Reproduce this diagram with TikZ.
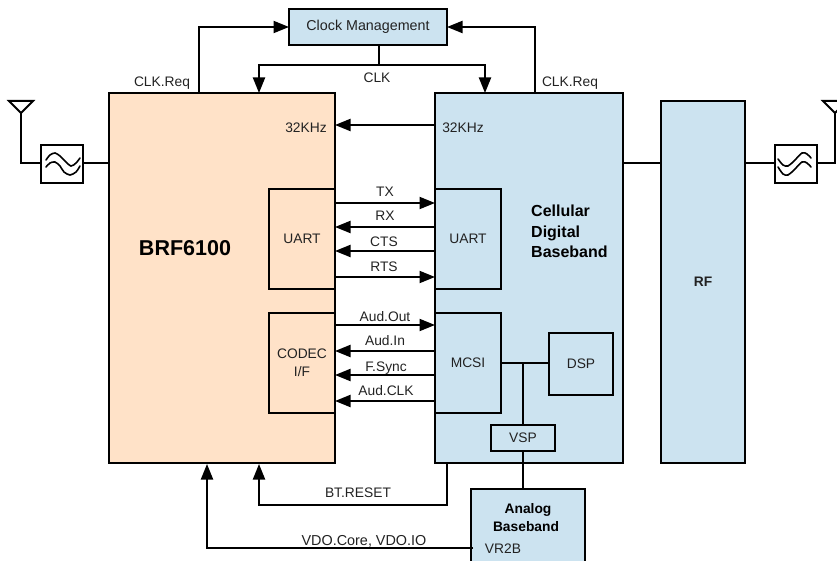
\documentclass[tikz,border=0pt]{standalone}
\usepackage{fontspec}
\setmainfont{Liberation Sans}
\usetikzlibrary{arrows.meta}
\definecolor{bluefill}{HTML}{CCE3F0}
\definecolor{peachfill}{HTML}{FFE2C8}
\definecolor{inkc}{HTML}{222222}
\tikzset{
  wire/.style={line width=2pt,draw=black,line join=miter},
  arw/.style={wire,-{Triangle[length=15.5pt,width=12pt]}},
  box/.style={draw=black,line width=2pt,outer sep=0pt,inner sep=0pt,text=inkc,align=center,
    font=\fontsize{13.8}{18}\selectfont},
  bluebox/.style={box,fill=bluefill},
  peachbox/.style={box,fill=peachfill},
  plainbox/.style={box,fill=white},
  lab/.style={anchor=base,inner sep=0pt,text=inkc,font=\fontsize{13.8}{16}\selectfont},
  boldlab/.style={anchor=base west,inner sep=0pt,text=black,font=\fontsize{16}{20}\selectfont\bfseries},
  wave/.style={line width=1.6pt,draw=black,line cap=round},
  ant/.style={line width=2pt,draw=black,line join=miter}
}
% \bx{style}{name}{x1}{y1}{x2}{y2}{text}
\newcommand{\bx}[7]{\node[#1,minimum width={(#5-#3)*1pt},minimum height={(#6-#4)*1pt}] (#2) at ({(#3+#5)/2},{(#4+#6)/2}) {#7};}
\begin{document}
\begin{tikzpicture}[x=1pt,y=-1pt]
\useasboundingbox (0,0) rectangle (837,561);
\clip (0,0) rectangle (837,561);
% main blocks
\bx{bluebox}{clock}{289}{9}{447}{45}{\fontsize{14.3}{18}\selectfont Clock Management}
\bx{peachbox}{brf}{109}{93}{335}{463}{}
\bx{bluebox}{cdb}{435}{93}{623}{463}{}
\bx{bluebox}{rf}{661}{101}{745}{463}{\bfseries RF}
\bx{peachbox}{uartL}{269}{189}{335}{289}{UART}
\bx{bluebox}{uartR}{435}{189}{501}{289}{UART}
\bx{peachbox}{codec}{269}{313}{335}{413}{CODEC\\I/F}
\bx{bluebox}{mcsi}{435}{313}{501}{413}{MCSI}
\bx{bluebox}{dsp}{549}{333}{613}{395}{DSP}
\bx{bluebox}{vsp}{491}{425}{555}{451}{VSP}
\bx{bluebox}{abb}{471}{489}{585}{600}{}
\bx{plainbox}{filtL}{41}{145}{83}{183}{}
\bx{plainbox}{filtR}{775}{145}{817}{183}{}
% free coordinates
\coordinate (antL) at (21,113);
\coordinate (antR) at (835,113);
\coordinate (clkJ) at (379,65);
\coordinate (busJ) at (523,363);
\coordinate (vr2b) at (473,548);
% antennas
\draw[ant] (9,101) -- (33,101) -- (antL) -- cycle;
\draw[ant] (823,101) -- (847,101) -- (antR) -- cycle;
% antenna and RF path
\draw[wire] (antL) |- (filtL.west |- 0,163);
\draw[wire] (filtL.east |- 0,163) -- (brf.west |- 0,163);
\draw[wire] (cdb.east |- 0,163) -- (rf.west |- 0,163);
\draw[wire] (rf.east |- 0,163) -- (filtR.west |- 0,163);
\draw[wire] (filtR.east |- 0,163) -| (antR);
% filter waves
\draw[wave] plot[smooth] coordinates {(46,160) (50,155) (55,153) (60,156) (65,161) (71,166) (76,163) (80,158)};
\draw[wave] plot[smooth] coordinates {(46,167) (50,163) (55,162) (60,166) (64,172) (70,175) (76,172) (80,166)};
\draw[wave] plot[smooth] coordinates {(778,159) (783,165) (788,166) (794,161) (802,153) (807,154) (811,158)};
\draw[wave] plot[smooth] coordinates {(778,167) (783,174) (788,175) (794,170) (802,162) (807,163) (811,167)};
% clock
\draw[arw] (199,0 |- brf.north) |- (clock.west);
\draw[arw] (535,0 |- cdb.north) |- (clock.east);
\draw[wire] (clock.south -| clkJ) -- (clkJ);
\draw[arw] (clkJ) -| (259,0 |- brf.north);
\draw[arw] (clkJ) -| (485,0 |- cdb.north);
\draw[arw] (cdb.west |- 0,125) -- (brf.east |- 0,125);
% serial and audio signals
\draw[arw] (uartL.east |- 0,203) -- (uartR.west |- 0,203);
\draw[arw] (uartR.west |- 0,227) -- (uartL.east |- 0,227);
\draw[arw] (uartR.west |- 0,251) -- (uartL.east |- 0,251);
\draw[arw] (uartL.east |- 0,277) -- (uartR.west |- 0,277);
\draw[arw] (codec.east |- 0,325) -- (mcsi.west |- 0,325);
\draw[arw] (mcsi.west |- 0,351) -- (codec.east |- 0,351);
\draw[arw] (mcsi.west |- 0,375) -- (codec.east |- 0,375);
\draw[arw] (mcsi.west |- 0,401) -- (codec.east |- 0,401);
% internal bus
\draw[wire] (mcsi.east |- busJ) -- (dsp.west |- busJ);
\draw[wire] (busJ) -- (vsp.north -| busJ);
\draw[wire] (vsp.south -| busJ) -- (abb.north -| busJ);
% reset and power
\draw[arw,shorten >=1pt] (447,0 |- cdb.south) |- (259,505) -- (259,0 |- brf.south);
\draw[arw,shorten >=1pt] (vr2b) -| (207,0 |- brf.south);
% labels
\node[lab] (lclkl) at (162,87) {CLK.Req};
\node[lab] (lclkr) at (570,87) {CLK.Req};
\node[lab] (lclk) at (377,83) {CLK};
\node[lab] (l32a) at (306,133) {32KHz};
\node[lab] (l32b) at (463,133) {32KHz};
\node[lab] (ltx) at (385,197) {TX};
\node[lab] (lrx) at (385,221) {RX};
\node[lab] (lcts) at (384,247) {CTS};
\node[lab] (lrts) at (384,271) {RTS};
\node[lab] (laout) at (385,321) {Aud.Out};
\node[lab] (lain) at (385,345) {Aud.In};
\node[lab] (lfs) at (386,371) {F.Sync};
\node[lab] (lack) at (386,395) {Aud.CLK};
\node[lab] (lrst) at (358,497) {BT.RESET};
\node[lab,font=\fontsize{14.4}{16}\selectfont] (lvdo) at (364,545) {VDO.Core, VDO.IO};
\node[lab] (lvr) at (503,553) {VR2B};
\node[anchor=base,inner sep=0pt,text=black,font=\fontsize{21.5}{24}\selectfont\bfseries] (lbrf) at (185,255) {BRF6100};
\node[boldlab] (lc1) at (531,217) {Cellular};
\node[boldlab] (lc2) at (531,237) {Digital};
\node[boldlab] (lc3) at (531,257) {Baseband};
\node[anchor=base,inner sep=0pt,text=black,font=\fontsize{13.8}{16}\selectfont\bfseries] (la1) at (528,513) {Analog};
\node[anchor=base,inner sep=0pt,text=black,font=\fontsize{13.8}{16}\selectfont\bfseries] (la2) at (526,531) {Baseband};
\end{tikzpicture}
\end{document}
